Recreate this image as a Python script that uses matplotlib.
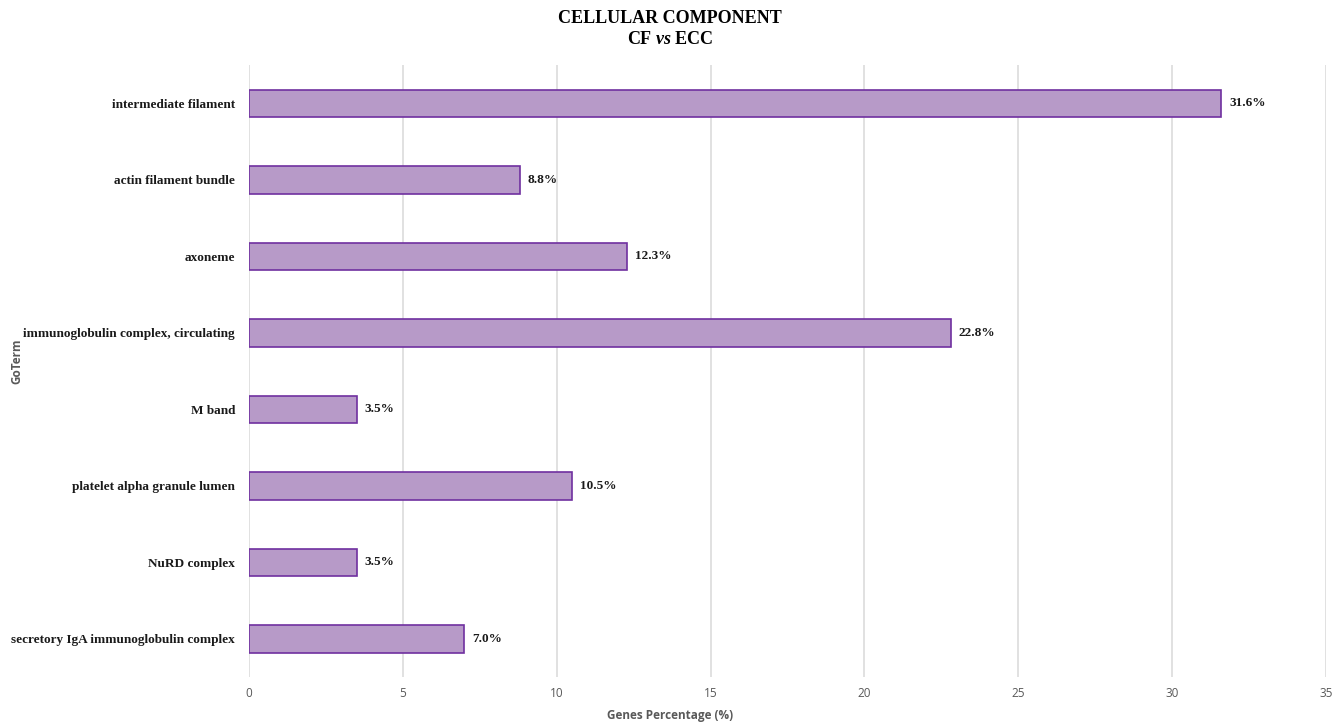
import matplotlib
matplotlib.use("Agg")
import matplotlib.pyplot as plt

plt.rcParams["mathtext.fontset"] = "custom"
plt.rcParams["mathtext.bfit"] = "Liberation Serif:italic:bold"
plt.rcParams["mathtext.it"] = "Liberation Serif:italic:bold"

terms = ["intermediate filament", "actin filament bundle", "axoneme",
         "immunoglobulin complex, circulating", "M band",
         "platelet alpha granule lumen", "NuRD complex",
         "secretory IgA immunoglobulin complex"]
percent = [31.6, 8.8, 12.3, 22.8, 3.5, 10.5, 3.5, 7.0]
xticks = [0, 5, 10, 15, 20, 25, 30, 35]

fig = plt.figure(figsize=(13.4, 7.23), dpi=100)
ax = fig.add_axes([0.1858, 0.0636, 0.8038, 0.8464])

ypos = list(range(len(terms)))[::-1]
ax.barh(ypos, percent, height=0.36, color="#B79AC8", edgecolor="#7030A0", linewidth=1.2, zorder=3)

for y, v in zip(ypos, percent):
    ax.text(v + 0.25, y, f"{v:.1f}%", va="center", ha="left",
            fontfamily="Liberation Serif", fontweight="bold", fontsize=9.5, color="#1a1a1a")

ax.set_xlim(0, 35)
ax.set_ylim(-0.5, len(terms) - 0.5)
ax.set_xticks(xticks)
ax.set_xticklabels([str(t) for t in xticks], fontfamily="Open Sans", fontsize=8.5, color="#595959")
ax.set_yticks(ypos)
ax.set_yticklabels(terms, fontfamily="Liberation Serif", fontweight="bold", fontsize=9.5, color="#1a1a1a")
ax.tick_params(axis="both", length=0)
ax.tick_params(axis="x", pad=7)
ax.tick_params(axis="y", pad=10)
ax.grid(axis="x", color="#D9D9D9", linewidth=1.1, zorder=0)
for s in ax.spines.values():
    s.set_visible(False)

fig.text(0.5, 0.0097, "Genes Percentage (%)", ha="center", va="center",
         fontfamily="Open Sans", fontweight="bold", fontsize=8.5, color="#595959")
fig.text(0.008, 0.5, "GoTerm", rotation=90, va="center", ha="left",
         fontfamily="Open Sans", fontweight="bold", fontsize=8.5, color="#595959")

fig.text(0.5, 0.975, "CELLULAR COMPONENT", ha="center", va="center",
         fontfamily="Liberation Serif", fontweight="bold", fontsize=13)
fig.text(0.5, 0.945, "CF $\\mathit{vs}$ ECC", ha="center", va="center",
         fontfamily="Liberation Serif", fontweight="bold", fontsize=13)

fig.savefig("out.png", dpi=100)
